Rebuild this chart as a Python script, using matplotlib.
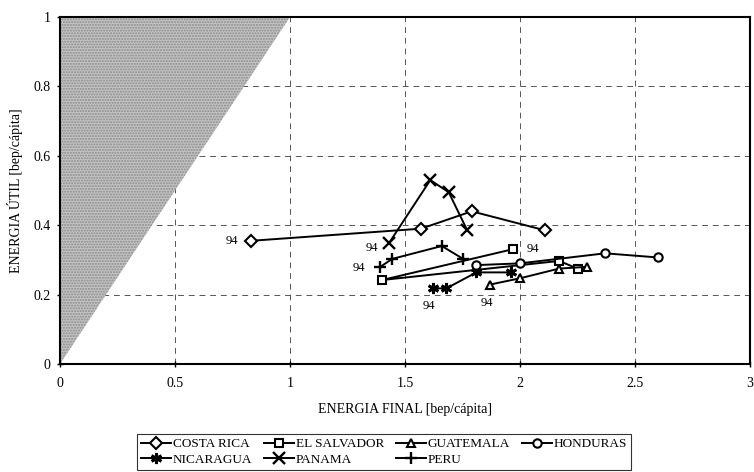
import matplotlib.pyplot as plt
import numpy as np

plt.rcParams['font.family'] = ['Liberation Serif', 'DejaVu Serif']

# values (energia final, energia util), 94 = label point
costa_rica_x = [0.83, 1.57, 1.79, 2.11]
costa_rica_y = [0.355, 0.39, 0.44, 0.385]
el_salvador_x = [1.97, 1.40, 2.17, 2.25]
el_salvador_y = [0.331, 0.242, 0.297, 0.275]
guatemala_x = [1.87, 2.00, 2.17, 2.29]
guatemala_y = [0.229, 0.247, 0.275, 0.280]
honduras_x = [1.81, 2.00, 2.37, 2.60]
honduras_y = [0.285, 0.290, 0.319, 0.307]
nicaragua_x = [1.62, 1.68, 1.81, 1.96]
nicaragua_y = [0.218, 0.218, 0.264, 0.264]
panama_x = [1.43, 1.61, 1.69, 1.77]
panama_y = [0.348, 0.530, 0.495, 0.386]
peru_x = [1.39, 1.445, 1.66, 1.75]
peru_y = [0.279, 0.303, 0.340, 0.304]

series = [
    ('COSTA RICA', costa_rica_x, costa_rica_y, 'D', (-14, 0)),
    ('NICARAGUA', nicaragua_x, nicaragua_y, (6, 2, 0), (-3, -13)),
    ('EL SALVADOR', el_salvador_x, el_salvador_y, 's', (14, 0)),
    ('PANAMA', panama_x, panama_y, 'x', (-12, -3.5)),
    ('GUATEMALA', guatemala_x, guatemala_y, '^', (-2.5, -13)),
    ('PERU', peru_x, peru_y, '+', (-15, -0.7)),
    ('HONDURAS', honduras_x, honduras_y, 'o', None),
]

fig = plt.figure(figsize=(7.54, 4.72), dpi=100)
ax = fig.add_axes([0.0796, 0.2288, 0.9151, 0.7352])

# zona imposible (util > final)
ax.fill([0, 0, 1], [0, 1, 1], facecolor='#c4c4c4', edgecolor='#8a8a8a',
        hatch='......', lw=0, zorder=1)

for name, xs, ys, mk, off in series:
    ms = 6
    mew = 1.5
    if mk in ('x', '+'):
        ms = 8
        mew = 1.7
    if isinstance(mk, tuple):
        ms = 8
        mew = 2.0
    ax.plot(xs, ys, color='black', lw=1.4, marker=mk, markersize=ms,
            markerfacecolor='white', markeredgecolor='black',
            markeredgewidth=mew, label=name, zorder=3)
    if off is not None:
        ax.annotate('94', (xs[0], ys[0]), xytext=off, textcoords='offset points',
                    ha='center', va='center', fontsize=9)

ax.set_xlim(0, 3)
ax.set_ylim(0, 1)
ax.set_xticks([0, 0.5, 1, 1.5, 2, 2.5, 3])
ax.set_xticklabels(['0', '0.5', '1', '1.5', '2', '2.5', '3'])
ax.set_yticks([0, 0.2, 0.4, 0.6, 0.8, 1])
ax.set_yticklabels(['0', '0.2', '0.4', '0.6', '0.8', '1'])
ax.tick_params(labelsize=10, direction='inout', length=4, width=1)
ax.tick_params(axis='x', pad=7)
ax.tick_params(axis='y', pad=5)
ax.grid(True, color='#555555', ls=(0, (6, 5)), lw=0.7, zorder=0)
ax.set_axisbelow(True)
for sp in ax.spines.values():
    sp.set_linewidth(1.5)
    sp.set_color('black')

ax.set_xlabel('ENERGIA FINAL [bep/cápita]', fontsize=10, labelpad=10)
ax.set_ylabel('ENERGIA ÚTIL [bep/cápita]', fontsize=10, labelpad=7)

leg = ax.legend(loc='upper center', bbox_to_anchor=(0.509, 0.094),
                bbox_transform=fig.transFigure, ncol=4, fontsize=9.5,
                frameon=True, fancybox=False, edgecolor='black',
                handlelength=2.3, columnspacing=0.9, handletextpad=0.1,
                borderpad=0.3, labelspacing=0.25)
leg.get_frame().set_linewidth(0.8)

fig.savefig('out.png', dpi=100)
